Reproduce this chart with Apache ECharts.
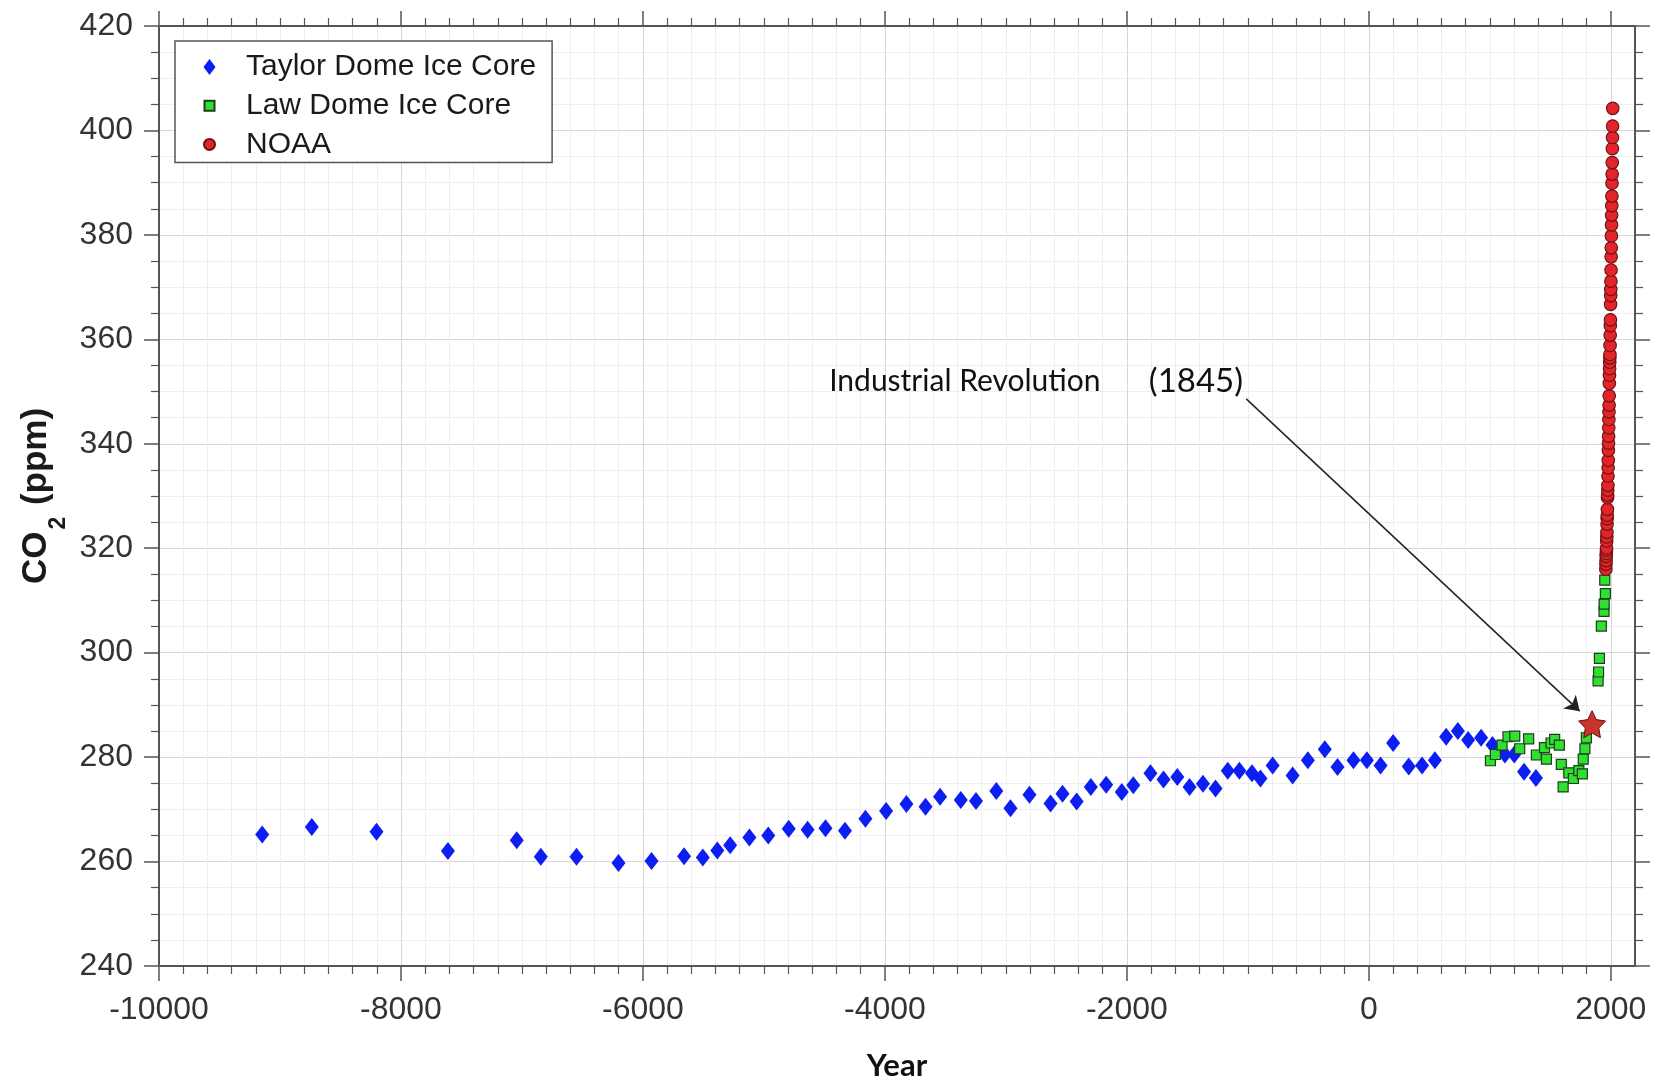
<!DOCTYPE html>
<html>
<head>
<meta charset="utf-8">
<script src="https://cdn.jsdelivr.net/npm/echarts@6.0.0/dist/echarts.min.js"></script>
<style>
html,body{margin:0;padding:0;background:#ffffff;}
#chart{width:1662px;height:1087px;}
</style>
</head>
<body>
<div id="chart"></div>
<script>
// ---- Data ----
const taylorYears = [-9147,-8737,-8202,-7612,-7043,-6844,-6549,-6202,-5929,-5660,-5505,-5385,-5279,-5120,-4964,-4795,-4639,-4491,-4330,-4161,-3990,-3822,-3664,-3544,-3373,-3247,-3079,-2962,-2805,-2631,-2532,-2415,-2298,-2171,-2042,-1947,-1805,-1697,-1583,-1482,-1371,-1267,-1166,-1070,-966,-896,-795,-630,-504,-364,-259,-127,-16,97,201,330,440,546,639,736,821,928,1022,1125,1202,1283,1381];
const taylorCO2  = [265.2,266.6,265.7,262.0,264.1,260.9,260.9,259.7,260.1,261.0,260.8,262.1,263.1,264.6,265.0,266.3,266.1,266.4,265.9,268.2,269.7,271.0,270.5,272.4,271.8,271.6,273.5,270.2,272.8,271.1,273.0,271.5,274.3,274.7,273.3,274.6,276.9,275.7,276.2,274.3,274.9,274.0,277.4,277.4,276.9,275.9,278.4,276.5,279.4,281.5,278.1,279.4,279.4,278.4,282.7,278.2,278.4,279.4,283.9,285.0,283.3,283.7,282.3,280.5,280.5,277.2,276.0];

const lawYears = [1005,1046,1101,1150,1206,1247,1321,1385,1452,1468,1506,1536,1575,1591,1606,1653,1691,1736,1765,1772,1786,1798,1895,1899,1906,1922,1944,1945,1950,1955];
const lawCO2   = [279.3,280.5,282.3,283.9,284.0,281.6,283.5,280.4,281.8,279.6,282.7,283.4,282.3,278.6,274.3,277.0,275.9,277.4,276.8,279.6,281.6,283.7,294.6,296.3,298.9,305.1,307.9,309.3,313.9,311.3];

const noaaYears = [1959,1960,1961,1962,1963,1964,1965,1966,1967,1968,1969,1970,1971,1972,1973,1974,1975,1976,1977,1978,1979,1980,1981,1982,1983,1984,1985,1986,1987,1988,1989,1990,1991,1992,1993,1994,1995,1996,1997,1998,1999,2000,2001,2002,2003,2004,2005,2006,2007,2008,2009,2010,2011,2012,2013,2014,2015,2016];
const noaaCO2   = [315.97,316.91,317.64,318.45,318.99,319.62,320.04,321.38,322.16,323.04,324.62,325.68,326.32,327.45,329.68,330.18,331.11,332.04,333.83,335.40,336.84,338.75,340.11,341.45,343.05,344.65,346.12,347.42,349.19,351.57,353.12,354.39,355.61,356.45,357.10,358.83,360.82,362.61,363.73,366.70,368.38,369.55,371.14,373.28,375.80,377.52,379.80,381.90,383.79,385.60,387.43,389.90,391.65,393.85,396.52,398.65,400.83,404.24];

const starYear = [1845];
const starCO2  = [286.3];

const annotationTexts = ['Industrial Revolution', '(1845)'];
const annotationYears = [-3339, -1429];
const annotationCO2   = [351.9, 351.9];
const arrowFrom = [-1013, 348.6];
const arrowTo   = [1743, 288.8];

const seriesNames = ['Taylor Dome Ice Core', 'Law Dome Ice Core', 'NOAA'];
const xTicks = [-10000, -8000, -6000, -4000, -2000, 0, 2000];
const yTicks = [240, 260, 280, 300, 320, 340, 360, 380, 400, 420];

// ---- Build ----
const zip = (xs, ys) => xs.map((x, i) => [x, ys[i]]);

const AXIS_COLOR = '#555555';
const TICK_FONT = {fontFamily: 'Liberation Sans', fontSize: 32, color: '#333333'};

function xAxisDef(pos, main) {
  return {
    type: 'value', position: pos, min: -10000, max: 2200, interval: 2000,
    axisLine: {show: true, onZero: false, lineStyle: {color: AXIS_COLOR, width: 2}},
    axisTick: {show: true, inside: false, length: 15, customValues: xTicks, lineStyle: {color: AXIS_COLOR, width: 1.5}},
    minorTick: {show: true, splitNumber: 10, length: 8, lineStyle: {color: AXIS_COLOR, width: 1.2}},
    splitLine: {show: main, lineStyle: {color: '#d8d8d8', width: 1}},
    minorSplitLine: {show: main, lineStyle: {color: '#eeeeee', width: 1}},
    axisLabel: main ? Object.assign({show: true, margin: 28, customValues: xTicks, formatter: v => String(v)}, TICK_FONT) : {show: false},
    name: main ? 'Year' : '',
    nameLocation: 'middle', nameGap: 84, nameMoveOverlap: false,
    nameTextStyle: {fontFamily: 'Lato', fontWeight: 'bold', fontSize: 31, color: '#111111'}
  };
}
function yAxisDef(pos, main) {
  return {
    type: 'value', position: pos, min: 240, max: 420, interval: 20,
    axisLine: {show: true, onZero: false, lineStyle: {color: AXIS_COLOR, width: 2}},
    axisTick: {show: true, inside: false, length: 15, lineStyle: {color: AXIS_COLOR, width: 1.5}},
    minorTick: {show: true, splitNumber: 4, length: 8, lineStyle: {color: AXIS_COLOR, width: 1.2}},
    splitLine: {show: main, lineStyle: {color: '#d8d8d8', width: 1}},
    minorSplitLine: {show: main, lineStyle: {color: '#eeeeee', width: 1}},
    axisLabel: main ? Object.assign({show: true, margin: 26}, TICK_FONT) : {show: false},
    name: main ? '{a|CO}{b|2}{a| (ppm)}' : '',
    nameLocation: 'middle', nameRotate: 90, nameGap: 103, nameMoveOverlap: false,
    nameTextStyle: {
      fontFamily: 'Liberation Sans', fontWeight: 'bold', fontSize: 35, color: '#1a1a1a',
      rich: {
        a: {fontFamily: 'Liberation Sans', fontWeight: 'bold', fontSize: 35, lineHeight: 37, color: '#1a1a1a', verticalAlign: 'top'},
        b: {fontFamily: 'Liberation Sans', fontWeight: 'bold', fontSize: 23, lineHeight: 23, color: '#1a1a1a', verticalAlign: 'top', padding: [28, 2, 0, 2]}
      }
    }
  };
}

const chart = echarts.init(document.getElementById('chart'), null, {renderer: 'canvas'});
const starPath = 'path://M0,-10L2.94,-4.05L9.51,-3.09L4.76,1.55L5.88,8.09L0,5L-5.88,8.09L-4.76,1.55L-9.51,-3.09L-2.94,-4.05Z';

chart.setOption({
  backgroundColor: '#ffffff',
  animation: false,
  grid: {left: 159, right: 27, top: 26, bottom: 121},
  legend: {
    left: 175, top: 41, orient: 'vertical', selectedMode: false,
    itemWidth: 13, itemHeight: 17, itemGap: 8.7,
    padding: [11, 16, 3, 27],
    borderColor: '#555555', borderWidth: 1.5, backgroundColor: '#ffffff',
    textStyle: {fontFamily: 'Liberation Sans', fontSize: 30, color: '#1a1a1a', padding: [0, 0, 0, 25]},
    data: [
      {name: seriesNames[0], icon: 'path://M0,0M13,17M6.5,0.5L12.5,8.5L6.5,16.5L0.5,8.5Z'},
      {name: seriesNames[1], icon: 'path://M0,0M13,17M1.5,3.5L11.5,3.5L11.5,13.5L1.5,13.5Z'},
      {name: seriesNames[2], icon: 'path://M0,0M13,17M12,8.5A5.5,5.5,0,1,1,1,8.5A5.5,5.5,0,1,1,12,8.5Z'}
    ]
  },
  xAxis: [xAxisDef('bottom', true), xAxisDef('top', false)],
  yAxis: [yAxisDef('left', true), yAxisDef('right', false)],
  series: [
    {
      name: seriesNames[0], type: 'scatter', xAxisIndex: 0, yAxisIndex: 0,
      symbol: 'diamond', symbolSize: [14, 18],
      itemStyle: {color: '#0d1ef2', borderWidth: 0, opacity: 1},
      data: zip(taylorYears, taylorCO2)
    },
    {
      name: seriesNames[1], type: 'scatter',
      symbol: 'rect', symbolSize: [10, 10],
      itemStyle: {color: '#2fe02f', borderColor: '#1d3d1d', borderWidth: 1.2, opacity: 1},
      data: zip(lawYears, lawCO2)
    },
    {
      name: seriesNames[2], type: 'scatter',
      symbol: 'circle', symbolSize: 12.5,
      itemStyle: {color: '#e3242a', borderColor: '#6e1414', borderWidth: 1.2, opacity: 1},
      data: zip(noaaYears, noaaCO2)
    },
    {
      name: 'Industrial Revolution', type: 'scatter',
      symbol: starPath, symbolSize: 27, z: 5,
      itemStyle: {color: '#c8342b', borderColor: '#5e1212', borderWidth: 1, opacity: 1},
      data: zip(starYear, starCO2),
      markLine: {
        silent: true, symbol: ['none', 'arrow'], symbolSize: 14,
        lineStyle: {color: '#222222', width: 1.5, type: 'solid'},
        label: {show: false},
        data: [[{coord: arrowFrom}, {coord: arrowTo}]]
      },
      markPoint: {
        silent: true, symbol: 'circle', symbolSize: 1,
        itemStyle: {color: 'rgba(0,0,0,0)'},
        label: {show: true, position: 'inside', fontFamily: 'Lato', fontSize: 30, color: '#111111'},
        data: annotationTexts.map((t, i) => ({
          coord: [annotationYears[i], annotationCO2[i]],
          label: {formatter: t, fontSize: i === 1 ? 33 : 30}
        }))
      }
    }
  ]
});
</script>
</body>
</html>
